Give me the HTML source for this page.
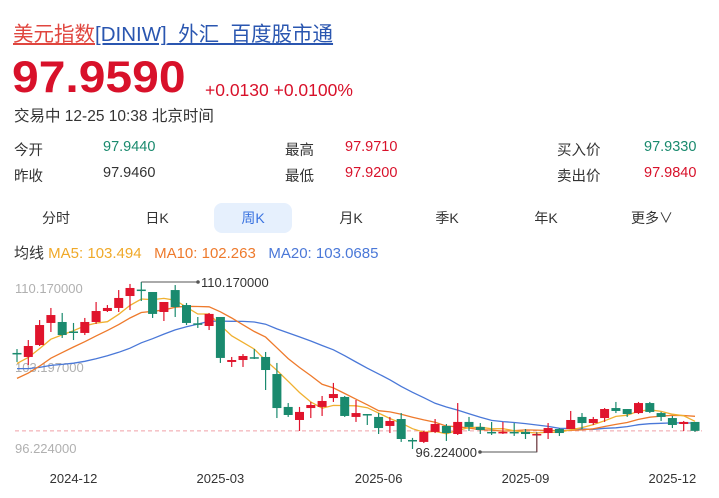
<!DOCTYPE html>
<html><head><meta charset="utf-8">
<style>
body{margin:0;width:719px;height:498px;background:#fff;font-family:"Liberation Sans","Noto Sans CJK SC",sans-serif;position:relative;overflow:hidden;color:#333}
.a{position:absolute;white-space:nowrap}
.u{text-decoration:underline}
.tab{position:absolute;top:203px;height:30px;line-height:30px;font-size:14px;color:#333;text-align:center;width:78px}
</style></head><body>
<div class="a" style="left:13px;top:17px;font-size:20.5px"><span class="u" style="color:#e0463f">美元指数</span><span class="u" style="color:#2a56b0">[DINIW]_外汇_百度股市通</span></div>
<div class="a" style="left:12px;top:50px;font-size:48px;font-weight:bold;color:#d8112a;transform:scaleY(0.92);transform-origin:0 50%">97.9590</div>
<div class="a" style="left:205px;top:80px;font-size:17.5px;color:#d8112a">+0.0130 +0.0100%</div>
<div class="a" style="left:14px;top:104px;font-size:15.5px;color:#333">交易中 12-25 10:38 北京时间</div>

<div class="a" style="left:14px;top:139px;font-size:14.5px">今开</div>
<div class="a" style="left:103px;top:139px;font-size:14.5px;color:#1a8a6e">97.9440</div>
<div class="a" style="left:285px;top:139px;font-size:14.5px">最高</div>
<div class="a" style="left:345px;top:139px;font-size:14.5px;color:#d8112a">97.9710</div>
<div class="a" style="left:557px;top:139px;font-size:14.5px">买入价</div>
<div class="a" style="left:644px;top:139px;font-size:14.5px;color:#1a8a6e">97.9330</div>
<div class="a" style="left:14px;top:165px;font-size:14.5px">昨收</div>
<div class="a" style="left:103px;top:165px;font-size:14.5px;color:#333">97.9460</div>
<div class="a" style="left:285px;top:165px;font-size:14.5px">最低</div>
<div class="a" style="left:345px;top:165px;font-size:14.5px;color:#d8112a">97.9200</div>
<div class="a" style="left:557px;top:165px;font-size:14.5px">卖出价</div>
<div class="a" style="left:644px;top:165px;font-size:14.5px;color:#d8112a">97.9840</div>

<div class="tab" style="left:17px">分时</div>
<div class="tab" style="left:118px">日K</div>
<div class="tab" style="left:214px;background:#e6f0fd;color:#3a73e0;border-radius:8px">周K</div>
<div class="tab" style="left:312px">月K</div>
<div class="tab" style="left:408px">季K</div>
<div class="tab" style="left:507px">年K</div>
<div class="tab" style="left:613px">更多∨</div>

<div class="a" style="left:14px;top:242px;font-size:15px">均线 <span style="color:#f0a928">MA5: 103.494</span>&nbsp;&nbsp; <span style="color:#ee7a2c">MA10: 102.263</span>&nbsp;&nbsp; <span style="color:#4a78d8">MA20: 103.0685</span></div>

<svg id="chart" class="a" style="left:0;top:0" width="719" height="498"></svg>
<script>
const opens=[104.35,104.02,105.00,106.81,106.89,106.11,105.99,106.89,107.79,108.04,109.02,109.55,109.35,107.71,109.51,108.28,106.78,106.56,107.30,103.61,103.77,104.00,104.02,102.62,99.92,98.85,99.83,99.92,100.65,100.74,99.10,99.34,99.10,98.36,98.93,97.21,97.05,97.87,98.36,97.70,98.69,98.28,97.87,97.78,97.87,97.87,97.66,97.78,98.11,98.11,99.10,98.60,99.01,99.83,99.75,99.42,100.24,99.42,99.01,98.52,98.69];
const closes=[104.30,104.92,106.64,107.46,105.82,106.03,106.89,107.79,108.04,108.86,109.68,109.51,107.55,108.53,108.12,106.81,106.73,107.55,103.94,103.77,104.10,103.96,102.95,99.83,99.26,99.51,100.08,100.41,100.98,99.18,99.42,99.30,98.19,98.77,97.29,97.13,97.87,98.52,97.78,98.69,98.28,98.03,97.85,97.87,97.78,97.70,97.70,98.19,97.78,98.85,98.60,98.93,99.75,99.59,99.34,100.24,99.51,99.10,98.44,98.69,97.959];
const highs=[104.67,105.41,107.05,108.04,107.63,106.81,107.22,108.53,108.28,109.51,110.01,110.17,109.35,108.53,109.92,108.45,107.30,107.63,107.30,104.02,104.26,104.67,104.43,103.53,100.24,99.92,100.33,100.82,101.89,100.82,100.49,99.34,99.42,99.10,99.42,97.38,97.95,98.93,98.52,100.24,99.10,98.60,98.69,98.69,98.60,98.11,97.78,98.60,98.19,99.59,99.42,99.10,99.83,100.33,99.75,100.33,100.33,99.51,99.18,98.77,98.69];
const lows=[103.61,103.36,104.92,106.07,105.58,105.41,105.82,106.73,107.71,107.71,107.87,108.61,107.22,106.97,107.30,106.64,106.40,106.23,103.53,103.20,103.20,103.85,101.31,99.01,99.10,97.95,99.01,99.18,100.33,99.10,98.69,98.44,97.70,97.78,97.05,96.47,96.96,97.78,97.13,97.62,97.95,97.70,97.62,97.70,97.54,97.29,96.224,97.29,97.54,98.11,98.11,98.44,98.69,99.42,99.10,99.34,99.42,98.77,98.19,97.95,97.87];
const priorCloses=[105.0,104.6,104.3,104.1,104.0,103.8,103.5,103.3,103.1,103.04,100.6,100.9,101.0,101.2,101.46,102.5,103.0,103.6,104.07];
const yTicks=["110.170000","103.197000","96.224000"];
const xLabels=["2024-12","2025-03","2025-06","2025-09","2025-12"];
const xLabelIdx=[5,18,32,45,58];
const maxVal=110.17, minVal=96.224, lastPrice=97.959;

const svg=document.getElementById('chart');
const NS='http://www.w3.org/2000/svg';
const X0=17, DX=11.3;
function xs(i){return X0+i*DX;}
function ys(v){return 282+(maxVal-v)*(170/(maxVal-minVal));}
function mk(tag,attrs,txt){const e=document.createElementNS(NS,tag);for(const k in attrs)e.setAttribute(k,attrs[k]);if(txt!=null)e.textContent=txt;svg.appendChild(e);return e;}

const yLabelPos=[288,367,448];
yTicks.forEach((t,i)=>{const e=mk('text',{x:15,y:yLabelPos[i]+5,'font-size':13,fill:'#b0b0b0','font-family':'Liberation Sans'},t);

});

const dl=mk('line',{x1:15,x2:702,y1:ys(lastPrice),y2:ys(lastPrice),stroke:'#f0a0a8','stroke-dasharray':'4,3','stroke-width':1});



const all=priorCloses.concat(closes);
function ma(n,color,name){let d='';closes.forEach((c,i)=>{const j=i+priorCloses.length;let s=0;for(let k=j-n+1;k<=j;k++)s+=all[k];d+=(i?'L':'M')+xs(i).toFixed(1)+','+ys(s/n).toFixed(1);});
const p=mk('path',{d:d,fill:'none',stroke:color,'stroke-width':1.3});

}
ma(20,'#4a78d8','ma20-line');ma(10,'#ee7a2c','ma10-line');ma(5,'#f0b030','ma5-line');

closes.forEach((c,i)=>{const o=opens[i];const up=c>=o;const col=up?'#e0142c':'#1a8a6e';const x=xs(i);
const w=mk('line',{x1:x,x2:x,y1:ys(highs[i]),y2:ys(lows[i]),stroke:col,'stroke-width':1.2});


const t=Math.min(ys(o),ys(c));const h=Math.max(1.5,Math.abs(ys(o)-ys(c)));
const r=mk('rect',{x:x-4.5,y:t,width:9,height:h,fill:col});

});

let mi=highs.indexOf(Math.max(...highs));let ni=lows.indexOf(Math.min(...lows));
mk('path',{d:`M${xs(mi)},${ys(highs[mi])}H198`,stroke:'#555',fill:'none','stroke-width':1});
mk('circle',{cx:198,cy:ys(highs[mi]),r:1.8,fill:'#555'});
const mt=mk('text',{x:201,y:ys(highs[mi])+5,'font-size':13,fill:'#333'},highs[mi].toFixed(6));


mk('path',{d:`M${xs(ni)},${ys(lows[ni])-20}V${ys(lows[ni])}H480`,stroke:'#555',fill:'none','stroke-width':1});
mk('circle',{cx:480,cy:ys(lows[ni]),r:1.8,fill:'#555'});
const nt=mk('text',{x:477,y:ys(lows[ni])+5,'font-size':13,fill:'#333','text-anchor':'end'},lows[ni].toFixed(6));



xLabels.forEach((l,i)=>{const e=mk('text',{x:xs(xLabelIdx[i]),y:483,'font-size':13,fill:'#333','text-anchor':'middle'},l);

});
</script>
</body></html>
